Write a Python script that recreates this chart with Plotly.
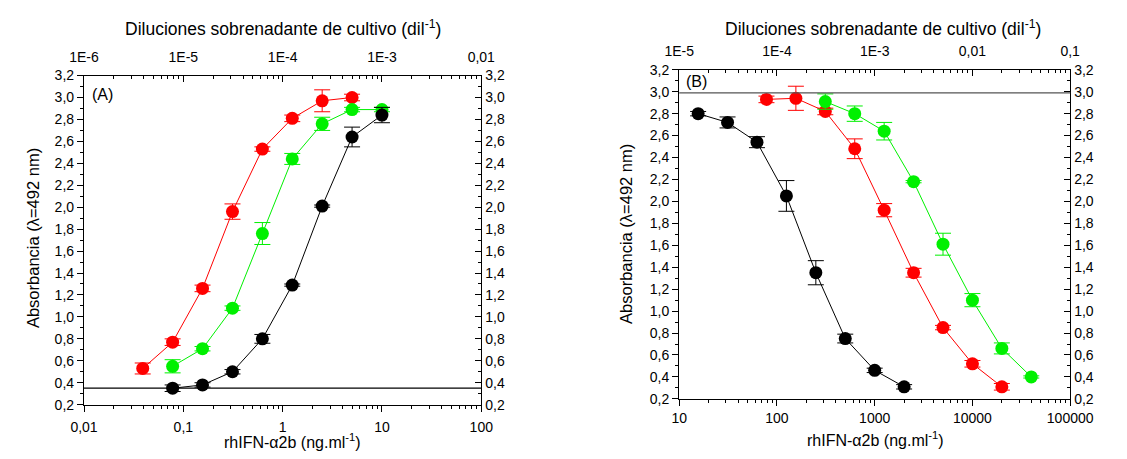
import plotly.graph_objects as go

# ---------------- DATA ----------------
# Panel A (rhIFN-a2b ng/ml)
a_red_x = [0.039, 0.078, 0.156, 0.3125, 0.625, 1.25, 2.5, 5.0]
a_red_y = [0.53, 0.77, 1.26, 1.96, 2.53, 2.81, 2.97, 3.00]
a_red_e = [0.05, 0.03, 0.03, 0.07, 0.02, 0.03, 0.10, 0.03]

a_green_x = [0.078, 0.156, 0.3125, 0.625, 1.25, 2.5, 5.0, 10.0]
a_green_y = [0.55, 0.71, 1.08, 1.76, 2.44, 2.76, 2.89, 2.89]
a_green_e = [0.06, 0.02, 0.02, 0.10, 0.05, 0.06, 0.02, 0.02]

a_black_x = [0.078, 0.156, 0.3125, 0.625, 1.25, 2.5, 5.0, 10.0]
a_black_y = [0.35, 0.38, 0.50, 0.80, 1.29, 2.01, 2.64, 2.84]
a_black_e = [0.03, 0.02, 0.02, 0.04, 0.01, 0.01, 0.09, 0.07]

a_hline = 0.35

# Panel B
b_black_x = [15.625, 31.25, 62.5, 125, 250, 500, 1000, 2000]
b_black_y = [2.80, 2.72, 2.54, 2.05, 1.35, 0.75, 0.46, 0.31]
b_black_e = [0.02, 0.05, 0.05, 0.14, 0.11, 0.04, 0.02, 0.02]

b_red_x = [78.125, 156.25, 312.5, 625, 1250, 2500, 5000, 10000, 20000]
b_red_y = [2.93, 2.94, 2.82, 2.48, 1.92, 1.35, 0.85, 0.52, 0.31]
b_red_e = [0.03, 0.11, 0.03, 0.09, 0.06, 0.04, 0.02, 0.03, 0.03]

b_green_x = [312.5, 625, 1250, 2500, 5000, 10000, 20000, 40000]
b_green_y = [2.91, 2.80, 2.64, 2.18, 1.61, 1.10, 0.66, 0.40]
b_green_e = [0.07, 0.07, 0.08, 0.01, 0.10, 0.06, 0.05, 0.01]

b_hline = 2.99

# Tick labels
a_bottom_vals = [0.01, 0.1, 1, 10, 100]
a_bottom_text = ["0,01", "0,1", "1", "10", "100"]
a_top_vals = [1e-6, 1e-5, 1e-4, 1e-3, 1e-2]
a_top_text = ["1E-6", "1E-5", "1E-4", "1E-3", "0,01"]
b_bottom_vals = [10, 100, 1000, 10000, 100000]
b_bottom_text = ["10", "100", "1000", "10000", "100000"]
b_top_vals = [1e-5, 1e-4, 1e-3, 1e-2, 1e-1]
b_top_text = ["1E-5", "1E-4", "1E-3", "0,01", "0,1"]
y_vals = [0.2, 0.4, 0.6, 0.8, 1.0, 1.2, 1.4, 1.6, 1.8, 2.0, 2.2, 2.4, 2.6, 2.8, 3.0, 3.2]
y_text = ["0,2", "0,4", "0,6", "0,8", "1,0", "1,2", "1,4", "1,6", "1,8", "2,0",
          "2,2", "2,4", "2,6", "2,8", "3,0", "3,2"]

RED = "#FF0000"
GREEN = "#00F000"
BLACK = "#000000"
FONT = "Liberation Sans, Arial, sans-serif"

W, H = 1127, 459


def minor_vals(lo_exp, hi_exp):
    out = []
    for e in range(lo_exp, hi_exp):
        for m in range(2, 10):
            out.append(m * 10.0 ** e)
    return out


fig = go.Figure()


def add_series(x, y, e, color, xa, ya):
    fig.add_trace(go.Scatter(
        x=x, y=y, mode="lines+markers", xaxis=xa, yaxis=ya,
        line=dict(color=color, width=1),
        marker=dict(color=color, size=13, line=dict(width=0)),
        error_y=dict(type="data", array=e, visible=True, color=color,
                     thickness=1, width=8),
        showlegend=False, hoverinfo="skip"))


add_series(a_red_x, a_red_y, a_red_e, RED, "x", "y")
add_series(a_green_x, a_green_y, a_green_e, GREEN, "x", "y")
add_series(a_black_x, a_black_y, a_black_e, BLACK, "x", "y")

add_series(b_black_x, b_black_y, b_black_e, BLACK, "x3", "y3")
add_series(b_red_x, b_red_y, b_red_e, RED, "x3", "y3")
add_series(b_green_x, b_green_y, b_green_e, GREEN, "x3", "y3")

# domains (paper coords)
axA = [71.5 / W, 483 / W]
axB = [688 / W, 1093 / W]
ayA = [1 - 411 / H, 1 - 70 / H]
ayB = [1 - 405 / H, 1 - 64 / H]

tickfont = dict(family=FONT, size=14, color="black")


def xax(domain, anchor, rng, vals, text, side="bottom", overlay=None, ticks="outside",
        mlo=0, mhi=0, standoff=2):
    d = dict(type="log", domain=domain, anchor=anchor, range=rng, side=side,
             tickvals=vals, ticktext=text, ticks=ticks, ticklen=6, tickwidth=1,
             tickcolor="black", showline=True, linecolor="black", linewidth=1.3,
             showgrid=False, zeroline=False, tickfont=tickfont,
             ticklabelstandoff=standoff,
             minor=dict(tickvals=minor_vals(mlo, mhi), ticks=ticks, ticklen=3,
                        tickwidth=1, tickcolor="black", showgrid=False))
    if overlay:
        d["overlaying"] = overlay
    return d


def yax(domain, anchor, side="left", overlay=None, ticks="outside"):
    d = dict(domain=domain, anchor=anchor, range=[0.2, 3.2], side=side,
             tickvals=y_vals, ticktext=y_text, ticks=ticks, ticklen=6, tickwidth=1,
             tickcolor="black", showline=True, linecolor="black", linewidth=1.3,
             showgrid=False, zeroline=False, tickfont=tickfont,
             minor=dict(dtick=0.1, ticks=ticks, ticklen=3, tickwidth=1,
                        tickcolor="black", showgrid=False))
    if overlay:
        d["overlaying"] = overlay
    return d


fig.update_layout(
    width=W, height=H,
    margin=dict(l=0, r=0, t=0, b=0),
    paper_bgcolor="white", plot_bgcolor="white",
    font=dict(family=FONT, size=14, color="black"),
    xaxis=xax(axA, "y", [-2, 2], a_bottom_vals, a_bottom_text, mlo=-2, mhi=2, standoff=3),
    xaxis2=xax(axA, "y", [-6, -2], a_top_vals, a_top_text, side="top", overlay="x",
               ticks="inside", mlo=-6, mhi=-2, standoff=7),
    yaxis=yax(ayA, "x"),
    yaxis2=yax(ayA, "x", side="right", overlay="y", ticks="inside"),
    xaxis3=xax(axB, "y3", [1, 5], b_bottom_vals, b_bottom_text, mlo=1, mhi=5, standoff=0),
    xaxis4=xax(axB, "y3", [-5, -1], b_top_vals, b_top_text, side="top", overlay="x3",
               ticks="inside", mlo=-5, mhi=-1, standoff=7),
    yaxis3=yax(ayB, "x3"),
    yaxis4=yax(ayB, "x3", side="right", overlay="y3", ticks="inside"),
)

# empty traces so overlay axes render
fig.add_trace(go.Scatter(x=[], y=[], xaxis="x2", yaxis="y2", showlegend=False))
fig.add_trace(go.Scatter(x=[], y=[], xaxis="x4", yaxis="y4", showlegend=False))

# reference lines
fig.add_shape(type="line", xref="x domain", yref="y", x0=0, x1=1, y0=a_hline, y1=a_hline,
              line=dict(color="black", width=1.3))
fig.add_shape(type="line", xref="x3 domain", yref="y3", x0=0, x1=1, y0=b_hline, y1=b_hline,
              line=dict(color="#555555", width=1.3))

ann = []


def add_text(txt, x, y, size, angle=0, xanchor="center"):
    ann.append(dict(text=txt, x=x / W, y=1 - y / H, xref="paper", yref="paper",
                    showarrow=False, textangle=angle, xanchor=xanchor, yanchor="middle",
                    font=dict(family=FONT, size=size, color="black")))


top_title = "Diluciones sobrenadante de cultivo (dil<sup>-1</sup>)"
bot_title = "rhIFN-α2b (ng.ml<sup>-1</sup>)"
ytitle = "Absorbancia (λ=492 nm)"
add_text(top_title, 278, 21, 17.5)
add_text(top_title, 899, 21, 17.5)
add_text(bot_title, 287, 449, 16)
add_text(bot_title, 891, 447, 16)
add_text(ytitle, 18, 238, 16.5, angle=-90)
add_text(ytitle, 633, 234, 16.5, angle=-90)
add_text("(A)", 78, 90, 16, xanchor="left")
add_text("(B)", 693, 76, 16, xanchor="left")
fig.update_layout(annotations=ann)

fig.write_html("out.html")
